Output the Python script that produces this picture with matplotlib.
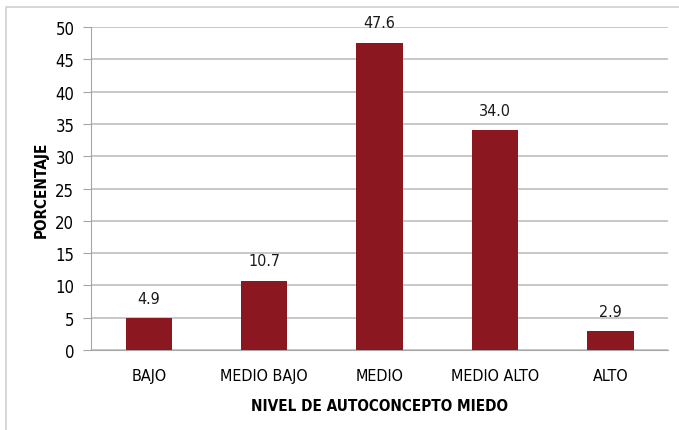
import matplotlib
matplotlib.use("Agg")
import matplotlib.pyplot as plt
from matplotlib.lines import Line2D

# datos
niveles = ["BAJO", "MEDIO BAJO", "MEDIO", "MEDIO ALTO", "ALTO"]
porcentaje = [4.9, 10.7, 47.6, 34.0, 2.9]
yticks = [0, 5, 10, 15, 20, 25, 30, 35, 40, 45, 50]

plt.rcParams['font.family'] = ['DejaVu Sans']
plt.rcParams['font.stretch'] = 'condensed'

fig = plt.figure(figsize=(6.79, 4.31), dpi=100)
ax = fig.add_axes([0.134, 0.1856, 0.850, 0.749])

x = range(len(niveles))
ax.bar(x, porcentaje, width=0.4, color='#8B1820', zorder=3)

for i, v in zip(x, porcentaje):
    ax.annotate(f"{v:.1f}", (i, v), xytext=(0, 9), textcoords='offset points',
                ha='center', va='bottom', fontsize=11.5, color='#1a1a1a')

ax.set_xlim(-0.5, len(niveles) - 0.5)
ax.set_ylim(0, 50)
ax.set_yticks(yticks)
ax.set_xticks(list(x))
ax.set_xticklabels(niveles)
ax.yaxis.grid(True, color='#BFBFBF', linewidth=1.2, zorder=0)
ax.set_axisbelow(True)

for s in ['top', 'right']:
    ax.spines[s].set_visible(False)
ax.spines['left'].set_color('#A6A6A6')
ax.spines['bottom'].set_color('#A6A6A6')
ax.tick_params(axis='y', length=6, color='#A6A6A6', labelsize=12, pad=6)
ax.tick_params(axis='x', length=0, labelsize=11.5, pad=13)

ax.set_ylabel('PORCENTAJE', fontsize=11, fontweight='bold', labelpad=5)
ax.set_xlabel('NIVEL DE AUTOCONCEPTO MIEDO', fontsize=11, fontweight='bold', labelpad=11)

# borde del cuadro exterior
x0 = 6 / 679
y0 = 1 - 8 / 431
fig.add_artist(Line2D([x0, x0, 1.0], [0.0, y0, y0], transform=fig.transFigure,
                      color='#D0D0D0', linewidth=1.2))

fig.savefig('out.png', dpi=100)
